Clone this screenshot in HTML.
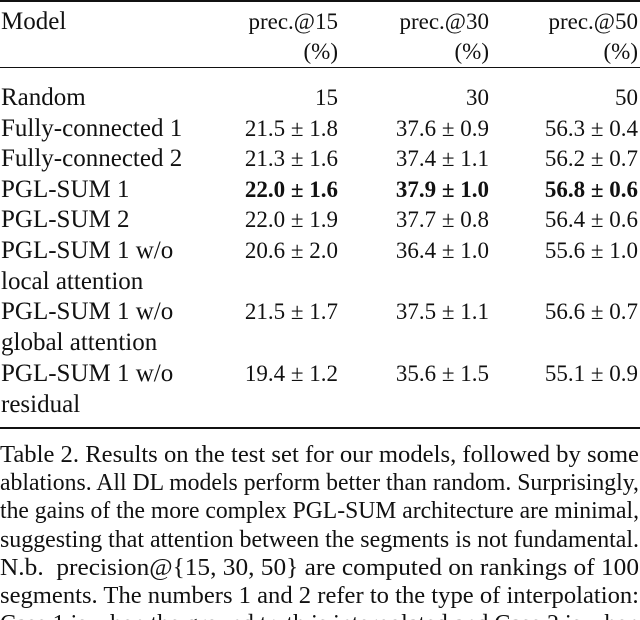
<!DOCTYPE html>
<html><head><meta charset="utf-8"><style>
body{margin:0;background:#fff;}
#page{position:relative;width:640px;height:620px;overflow:hidden;font-family:"Liberation Serif",serif;color:#111;}
.t{position:absolute;font-size:23px;line-height:26px;white-space:nowrap;}
.r{text-align:right;}
.c1{right:302px}.c2{right:151px}.c3{right:2px}
.m{left:1px;font-size:25px;}
.rule{position:absolute;left:0;width:640px;background:#111;}
.cap{position:absolute;left:0;font-size:24px;line-height:28px;white-space:nowrap;transform-origin:left center;}
</style></head><body>
<div id="page">
<div class="rule" style="top:0;height:2px"></div>
<div class="rule" style="top:67px;height:1px"></div>
<div class="rule" style="top:427px;height:2px"></div>

<div class="t m" style="top:9px">Model</div>
<div class="t r c1" style="top:9px">prec.@15</div>
<div class="t r c2" style="top:9px">prec.@30</div>
<div class="t r c3" style="top:9px">prec.@50</div>
<div class="t r c1" style="top:39px">(%)</div>
<div class="t r c2" style="top:39px">(%)</div>
<div class="t r c3" style="top:39px">(%)</div>

<div id="rows"></div>

<div class="cap" style="top:441px">Table 2. Results on the test set for our models, followed by some</div>
<div class="cap" style="top:469px">ablations. All DL models perform better than random. Surprisingly,</div>
<div class="cap" style="top:497px">the gains of the more complex PGL-SUM architecture are minimal,</div>
<div class="cap" style="top:526px">suggesting that attention between the segments is not fundamental.</div>
<div class="cap" style="top:554px">N.b.&nbsp; precision@{15, 30, 50} are computed on rankings of 100</div>
<div class="cap" style="top:582px">segments. The numbers 1 and 2 refer to the type of interpolation:</div>
<div class="cap" style="top:610px">Case 1 is when the ground truth is interpolated and Case 2 is when</div>
</div>
<script>
const models=[["Random"],["Fully-connected 1"],["Fully-connected 2"],["PGL-SUM 1"],["PGL-SUM 2"],["PGL-SUM 1 w/o","local attention"],["PGL-SUM 1 w/o","global attention"],["PGL-SUM 1 w/o","residual"]];
const p15=["15","21.5 ± 1.8","21.3 ± 1.6","22.0 ± 1.6","22.0 ± 1.9","20.6 ± 2.0","21.5 ± 1.7","19.4 ± 1.2"];
const p30=["30","37.6 ± 0.9","37.4 ± 1.1","37.9 ± 1.0","37.7 ± 0.8","36.4 ± 1.0","37.5 ± 1.1","35.6 ± 1.5"];
const p50=["50","56.3 ± 0.4","56.2 ± 0.7","56.8 ± 0.6","56.4 ± 0.6","55.6 ± 1.0","56.6 ± 0.7","55.1 ± 0.9"];
const boldRow=3;
const host=document.getElementById('rows');
let y=85;
models.forEach((m,i)=>{
  const cells=[[m[0],'t m'],[p15[i],'t r c1'],[p30[i],'t r c2'],[p50[i],'t r c3']];
  cells.forEach((c,j)=>{
    const d=document.createElement('div');
    d.className=c[1];d.style.top=y+'px';
    d.textContent=c[0];
    if(i===boldRow&&j>0)d.style.fontWeight='bold';
    
    
    host.appendChild(d);
  });
  if(m[1]){
    const d=document.createElement('div');
    d.className='t m';d.style.top=(y+31)+'px';d.textContent=m[1];
    
    
    host.appendChild(d);
    y+=61.7;
  } else y+=30.5;
});
document.querySelectorAll('.cap').forEach(el=>{
  const w=el.getBoundingClientRect().width;
  el.style.transform='scaleX('+(639/w)+')';
});
</script>
</body></html>
